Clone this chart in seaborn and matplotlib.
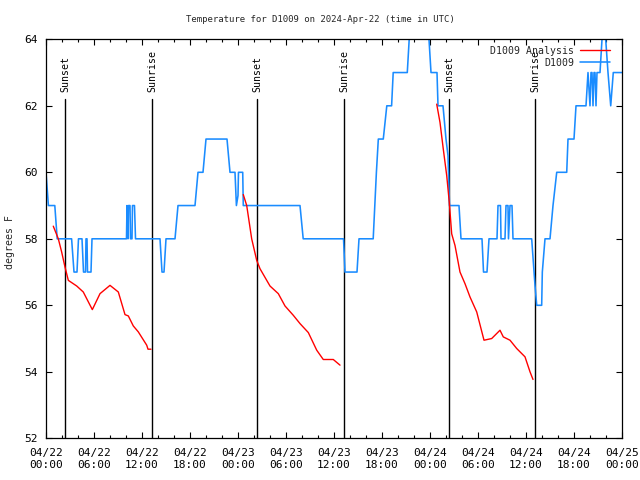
import numpy as np
import pandas as pd
import matplotlib
matplotlib.use("Agg")
import matplotlib.pyplot as plt
import seaborn as sns

# ---------------- data (hours since 2024-04-22 00:00 UTC) ----------------
station_hours = [0, 0.3, 0.5, 1.1, 1.4, 3.2, 3.5, 3.875, 4.06, 4.5, 4.69, 4.94, 5.0, 5.125, 5.19,
                 5.625, 5.75, 10.06, 10.125, 10.25, 10.31, 10.5, 10.56, 10.75, 10.81, 11.06, 11.19,
                 14.25, 14.5, 14.75, 15.0, 16.125, 16.5, 18.625, 19.0, 19.625, 20.0, 22.625, 23.0,
                 23.625, 23.8, 24.0, 24.06, 24.59, 24.66, 31.75, 32.15, 37.19, 37.375, 38.875, 39.125,
                 40.9, 41.1, 41.3, 41.54, 42.16, 42.6, 43.2, 43.4, 45.16, 45.4, 46.5, 47.875, 48.125,
                 48.875, 49.0, 49.625, 50.0, 50.25, 50.44, 51.625, 51.875, 54.5, 54.69, 55.125, 55.375,
                 56.375, 56.5, 56.81, 56.875, 57.375, 57.5, 57.75, 57.81, 58.0, 58.25, 58.375, 60.71,
                 61.125, 61.34, 61.96, 62.04, 62.375, 63.0, 63.375, 63.84, 65.09, 65.25, 66.0, 66.25,
                 67.5, 67.75, 68.0, 68.125, 68.25, 68.375, 68.5, 68.625, 68.75, 68.875, 69.25, 69.5,
                 69.875, 70.25, 70.59, 70.91, 72.0]
station_temp = [60, 59, 59, 59, 58, 58, 57, 57, 58, 58, 57, 57, 58, 58, 57,
                57, 58, 58, 59, 58, 59, 59, 58, 58, 59, 59, 58,
                58, 57, 57, 58, 58, 59, 59, 60, 60, 61, 61, 60,
                60, 59, 59.3, 60, 60, 59, 59, 58, 58, 57, 57, 58,
                58, 59, 60, 61, 61, 62, 62, 63, 63, 64, 65, 64, 63,
                63, 62, 62, 61, 60.5, 59, 59, 58, 58, 57, 57, 58,
                58, 59, 59, 58, 58, 59, 59, 58, 59, 59, 58, 58,
                56.6, 56, 56, 57, 58, 58, 59, 60, 60, 61, 61, 62,
                62, 63, 62, 63, 63, 62, 63, 63, 62, 63, 63, 64,
                64.3, 63, 62, 63, 63]

analysis_seg1_hours = [0.91, 1.54, 1.96, 2.375, 2.79, 3.84, 4.66, 5.79, 6.75, 8.0, 9.04, 9.875,
                       10.29, 10.91, 11.54, 12.59, 12.75, 13.125]
analysis_seg1_temp = [58.38, 58.0, 57.6, 57.15, 56.75, 56.58, 56.4, 55.87, 56.35, 56.6, 56.4, 55.72,
                      55.68, 55.38, 55.2, 54.8, 54.68, 54.68]
analysis_seg2_hours = [24.66, 25.09, 25.71, 26.34, 26.75, 28.0, 29.04, 29.875, 30.91, 31.75, 32.79,
                       33.84, 34.66, 35.91, 36.75]
analysis_seg2_temp = [59.33, 59.0, 58.0, 57.35, 57.1, 56.58, 56.35, 55.98, 55.7, 55.45, 55.18,
                      54.65, 54.37, 54.37, 54.2]
analysis_seg3_hours = [48.84, 49.25, 49.66, 50.09, 50.41, 50.71, 51.125, 51.75, 52.375, 53.0, 53.84,
                       54.75, 55.71, 56.75, 57.16, 58.0, 58.84, 59.875, 60.5, 60.875]
analysis_seg3_temp = [62.05, 61.5, 60.7, 59.9, 59.1, 58.15, 57.8, 57.0, 56.65, 56.25, 55.8,
                      54.95, 55.0, 55.25, 55.05, 54.95, 54.7, 54.45, 54.0, 53.77]

sun_hours = [2.41, 13.29, 26.41, 37.29, 50.41, 61.16]
sun_labels = ["Sunset", "Sunrise", "Sunset", "Sunrise", "Sunset", "Sunrise"]

x_tick_hours = list(range(0, 73, 6))
x_tick_labels = ["04/22\n00:00", "04/22\n06:00", "04/22\n12:00", "04/22\n18:00",
                 "04/23\n00:00", "04/23\n06:00", "04/23\n12:00", "04/23\n18:00",
                 "04/24\n00:00", "04/24\n06:00", "04/24\n12:00", "04/24\n18:00",
                 "04/25\n00:00"]
y_ticks = [52, 54, 56, 58, 60, 62, 64]

title = "Temperature for D1009 on 2024-Apr-22 (time in UTC)"
y_label = "degrees F"
station_name = "D1009"
analysis_name = "D1009 Analysis"

# ---------------- frames ----------------
station_df = pd.DataFrame({"hour": station_hours, "temp": station_temp})
analysis_df = pd.concat([
    pd.DataFrame({"hour": analysis_seg1_hours, "temp": analysis_seg1_temp, "seg": 1}),
    pd.DataFrame({"hour": analysis_seg2_hours, "temp": analysis_seg2_temp, "seg": 2}),
    pd.DataFrame({"hour": analysis_seg3_hours, "temp": analysis_seg3_temp, "seg": 3}),
], ignore_index=True)

# ---------------- plot ----------------
sns.set_style("ticks")
plt.rcParams["font.family"] = ["DejaVu Sans Mono"]

fig = plt.figure(figsize=(6.4, 4.8), dpi=100)
ax = fig.add_axes([46 / 640, 41.7 / 480, 576 / 640, 399 / 480])

BLUE = "#1a8cff"
RED = "#ff0000"

for h in sun_hours:
    ax.plot([h, h], [52, 62.2], color="black", lw=1.0, zorder=1)
for h, lab in zip(sun_hours, sun_labels):
    ax.text(h, 62.42, lab, rotation=90, ha="center", va="bottom", fontsize=7.1, color="black")

sns.lineplot(data=station_df, x="hour", y="temp", ax=ax, color=BLUE, lw=1.15,
             estimator=None, sort=False, label=station_name, zorder=2)
sns.lineplot(data=analysis_df, x="hour", y="temp", units="seg", ax=ax, color=RED, lw=1.0,
             estimator=None, sort=False, label=analysis_name, zorder=3)

ax.set_xlim(0, 72)
ax.set_ylim(52, 64)
ax.set_xticks(x_tick_hours)
ax.set_xticklabels(x_tick_labels)
ax.set_xticks(list(range(0, 73, 2)), minor=True)
ax.set_yticks(y_ticks)
ax.set_yticklabels([str(v) for v in y_ticks])
ax.set_xlabel("")
ax.set_ylabel("")
ax.tick_params(axis="both", which="both", direction="in", top=True, right=True,
               colors="black", width=0.8, labelsize=8)
ax.tick_params(axis="both", which="major", length=4)
ax.tick_params(axis="both", which="minor", length=2.5)
ax.tick_params(axis="x", pad=7)
ax.tick_params(axis="y", pad=6)
for sp in ax.spines.values():
    sp.set_visible(True)
    sp.set_color("black")
    sp.set_linewidth(0.9)

fig.text(0.5, 1 - 20 / 480, title, ha="center", va="center", fontsize=6.5)
fig.text(10 / 640, 1 - 241.7 / 480, y_label, rotation=90, ha="center", va="center", fontsize=7.1)

handles, labels = ax.get_legend_handles_labels()
order = [labels.index(analysis_name), labels.index(station_name)]
ax.legend([handles[i] for i in order], [labels[i] for i in order],
          loc="upper right", bbox_to_anchor=(610 / 640, 1 - 45.5 / 480),
          bbox_transform=fig.transFigure, frameon=False, markerfirst=False,
          handlelength=3.0, handletextpad=0.6, labelspacing=0.23,
          borderpad=0, borderaxespad=0, fontsize=7.1)

fig.savefig("out.png", dpi=100)
